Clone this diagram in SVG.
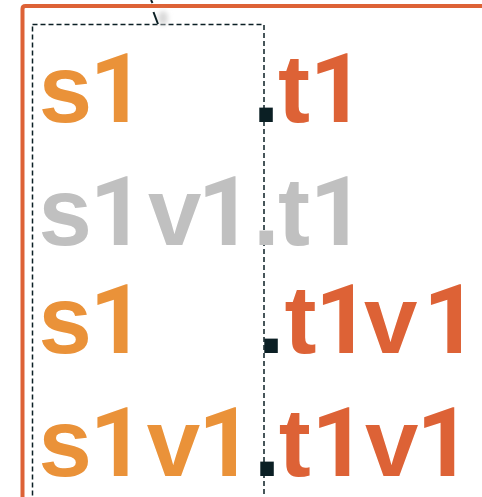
<svg xmlns="http://www.w3.org/2000/svg" width="482" height="497" viewBox="0 0 482 497">
<style>
.lbl{font-family:"Liberation Sans",Arial,sans-serif;font-weight:bold;font-size:96px}
.n{font-family:Roboto,"Liberation Sans",Arial,sans-serif;font-size:97px;font-weight:bold}
.s{fill:#ea9239}.t{fill:#dd6236}.g{fill:#c0c0c0}.d{fill:#0b1f24}
.cluster{fill:none;stroke:#dd6236;stroke-width:4}
.box{fill:none;stroke:#0b1f24;stroke-width:1.5;stroke-dasharray:5 3}
.edge{fill:none;stroke:#0b1f24;stroke-width:2}
</style>
<defs><filter id="blur" x="-1" y="-1" width="3" height="3"><feGaussianBlur stdDeviation="2.5"/></filter></defs>
<rect width="482" height="497" fill="#ffffff"/>
<g id="cluster-outer">
<path class="cluster" d="M22.5 520 V9 Q22.5 6 25.5 6 H490"/>
</g>
<g id="node-box">
<rect class="box" x="32.5" y="24.5" width="231.5" height="520"/>
</g>
<g id="connectors">
<ellipse cx="163" cy="18" rx="5" ry="7" fill="#d8d8d8" filter="url(#blur)"/>
<path class="edge" d="M151 0 L152.5 3"/>
<path class="edge" d="M153.5 12 L158 24"/>
</g>
<g id="row1">
<text class="lbl" y="122"><tspan class="s" x="38.7">s</tspan><tspan class="s n" x="89.5">1</tspan><tspan class="d" x="252.8">.</tspan><tspan class="t" x="278.1">t</tspan><tspan class="t n" x="309.5">1</tspan></text>
</g>
<g id="row2">
<text class="lbl g" y="245"><tspan x="38.5">s</tspan><tspan class="n" x="89.5">1</tspan><tspan x="148">v</tspan><tspan class="n" x="197.5">1</tspan><tspan x="253">.</tspan><tspan x="278.1">t</tspan><tspan class="n" x="309.5">1</tspan></text>
</g>
<g id="row3">
<text class="lbl" y="353"><tspan class="s" x="38.5">s</tspan><tspan class="s n" x="89.5">1</tspan><tspan class="d" x="257.8">.</tspan><tspan class="t" x="284.5">t</tspan><tspan class="t n" x="315">1</tspan><tspan class="t" x="364">v</tspan><tspan class="t n" x="423">1</tspan></text>
</g>
<g id="row4">
<text class="lbl" y="476"><tspan class="s" x="38.5">s</tspan><tspan class="s n" x="89.5">1</tspan><tspan class="s" x="146.7">v</tspan><tspan class="s n" x="198">1</tspan><tspan class="d" x="253.8">.</tspan><tspan class="t" x="278.8">t</tspan><tspan class="t n" x="311.3">1</tspan><tspan class="t" x="365">v</tspan><tspan class="t n" x="416.3">1</tspan></text>
</g>
</svg>
